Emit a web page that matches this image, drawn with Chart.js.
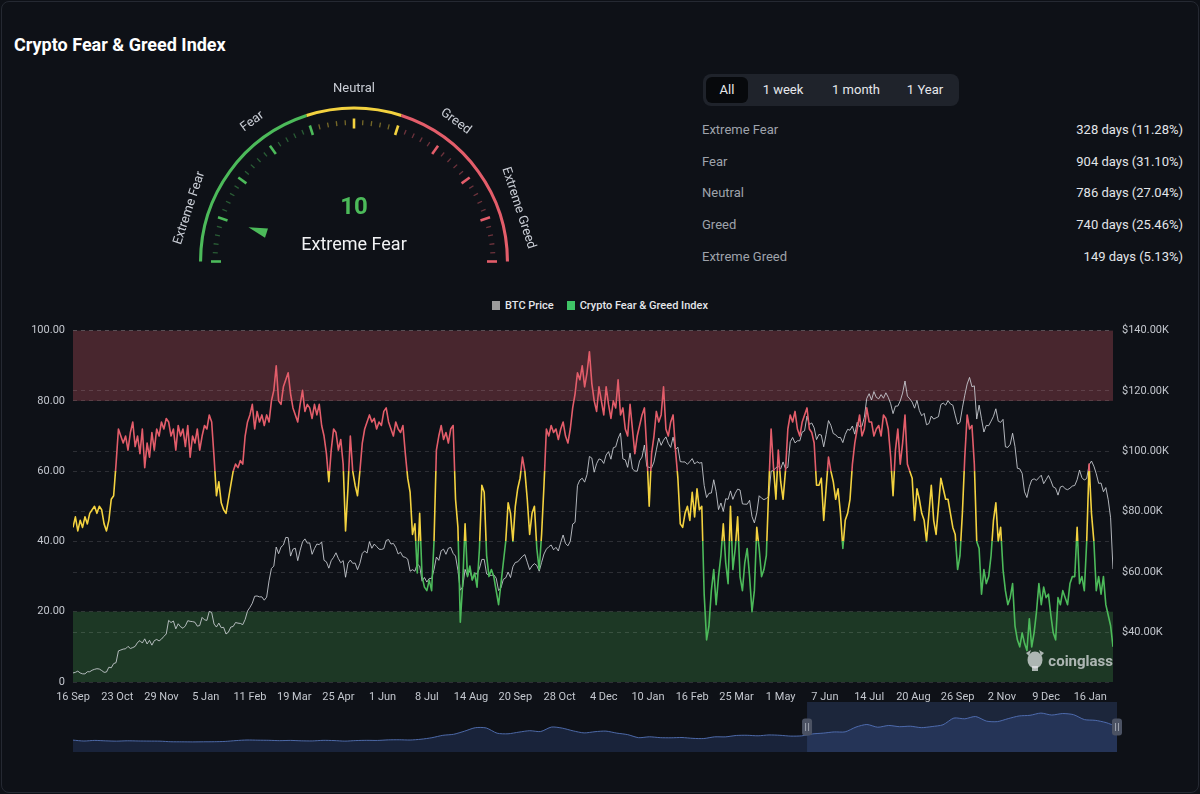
<!DOCTYPE html>
<html>
<head>
<meta charset="utf-8">
<script src="https://cdn.jsdelivr.net/npm/chart.js@4.4.1/dist/chart.umd.min.js"></script>
<style>
html,body{margin:0;padding:0;background:#0e1117;}
body{width:1200px;height:794px;position:relative;overflow:hidden;font-family:Roboto,"Noto Sans",sans-serif;color:#e6e8eb;}
#frame{position:absolute;left:1px;top:1px;width:1196px;height:790px;border:1px solid #252932;border-radius:8px;}
#title{position:absolute;left:14px;top:35px;line-height:20px;font-size:18px;font-weight:700;color:#ffffff;}
#btns{position:absolute;left:703px;top:74px;width:256px;height:32px;background:#1f232b;border-radius:8px;}
#btns .act{position:absolute;left:3px;top:3px;width:42px;height:26px;background:#07090c;border-radius:6px;}
#btns span{position:absolute;top:0;line-height:32px;font-size:13px;color:#e6e8eb;transform:translateX(-50%);white-space:nowrap;}
.row{position:absolute;left:702px;width:481px;height:20px;line-height:20px;font-size:13px;}
.row .l{position:absolute;left:0;color:#9ea3ab;}
.row .v{position:absolute;right:0;color:#e2e5e9;}
#legend{position:absolute;left:0;top:297px;width:1200px;height:16px;display:flex;justify-content:center;align-items:center;font-size:11px;font-weight:500;color:#e4e6ea;}
#legend .sw{display:inline-block;width:8px;height:9px;margin-right:5px;}
canvas{position:absolute;}
</style>
</head>
<body>
<div id="frame"></div>
<div id="title">Crypto Fear &amp; Greed Index</div>
<canvas id="gauge" width="400" height="220" style="left:154px;top:74px;width:400px;height:220px;"></canvas>
<div id="btns"><div class="act"></div><span style="left:24px">All</span><span style="left:80px">1 week</span><span style="left:153px">1 month</span><span style="left:222px">1 Year</span></div>
<div id="stats"></div>
<div id="legend"><span class="sw" style="background:#9c9c9c"></span><span>BTC Price</span><span class="sw" style="background:#3fc466;margin-left:13px"></span><span>Crypto Fear &amp; Greed Index</span></div>
<canvas id="main" width="1200" height="387" style="left:0;top:315px;width:1200px;height:387px;"></canvas>
<canvas id="nav" width="1200" height="56" style="left:0;top:700px;width:1200px;height:56px;"></canvas>
<script>
// ---------- DATA ----------
const statLabels = ['Extreme Fear','Fear','Neutral','Greed','Extreme Greed'];
const statValues = ['328 days (11.28%)','904 days (31.10%)','786 days (27.04%)','740 days (25.46%)','149 days (5.13%)'];

const gaugeValue = 10;
const gaugeValueLabel = 'Extreme Fear';
const gaugeZones = [40, 20, 40];            // 0-40 fear, 40-60 neutral, 60-100 greed
const gaugeZoneLabels = ['Extreme Fear','Fear','Neutral','Greed','Extreme Greed'];
const gaugeZoneLabelValues = [10, 30, 50, 70, 90];

const STEP = 2; // days between samples, first sample = 16 Sep 2023
const fg2023 = [44,47,43,46,44,47,45,48,
  49,50,48,50,49,45,43,46,52,53,62,72,70,68,70,
  66,71,74,67,70,65,72,61,68,64,71,66,72,70,74,
  72,75,74,70,72,66,73,70,72,67,73,64,70,68,72,66];
const fg2024 = [70,73,72,76,74,64,53,57,51,49,48,52,56,60,62,
  61,63,62,70,74,76,79,72,77,74,76,73,76,74,80,
  83,90,80,79,84,86,88,82,78,76,74,79,83,77,79,
  78,75,79,76,79,73,70,65,57,66,72,71,66,69,62,
  43,55,70,60,56,53,60,68,72,74,76,74,75,72,74,73,
  77,78,74,72,70,74,72,71,73,65,58,54,42,45,31,
  48,30,27,26,29,26,40,66,70,73,69,71,68,72,73,
  52,44,17,28,45,30,33,29,31,27,38,56,54,36,30,32,
  30,26,22,28,34,40,51,48,40,50,55,58,64,60,52,
  42,48,50,38,32,42,56,72,70,73,71,72,69,72,74,
  70,68,72,78,82,88,86,90,84,88,94,85,80,77,84,
  80,76,84,79,75,80,78,86,76,78,72,70,79,72,65,70];
const fg2025 = [73,76,78,66,50,65,70,77,74,76,84,72,70,74,76,
  66,58,45,44,48,50,46,54,47,55,49,50,25,12,
  16,26,32,22,30,36,45,34,28,50,32,38,47,30,26,34,
  38,30,20,26,44,38,30,32,36,55,72,61,52,66,57,
  52,60,72,76,74,77,72,70,74,76,78,72,71,68,56,
  56,58,46,55,64,60,57,52,55,48,38,46,48,52,62,
  68,72,76,70,72,78,74,74,70,72,73,70,76,75,72,64,
  53,66,72,62,68,76,62,60,58,46,55,52,48,46,40,
  48,56,46,42,50,58,55,52,52,48,44,42,32,36,48,
  64,76,72,73,62,40,38,25,32,28,30,36,46,51,40,44,
  32,26,22,24,28,16,12,10,14,11,9,18,10,14,20,
  28,22,27,24,25,19,14,12,24,22,26,24,22,28,30];
const fg2026 = [30,44,28,30,26,40,62,48,40,26,30,25,30,22,19,16,10];

// BTC price, thousands of USD, same sampling
const btc2023 = [26.6,26.8,27.2,26.6,26.3,26.3,27.0,27.0,
  27.5,27.8,28.0,27.9,27.4,26.8,26.9,28.5,28.3,29.7,30.0,33.9,34.2,34.5,34.6,
  35.4,34.7,35.0,35.4,36.7,37.3,36.5,37.9,36.2,37.4,35.8,37.3,37.7,37.2,37.8,
  38.7,39.5,44.0,43.3,43.8,41.2,42.9,41.9,41.4,42.2,43.9,43.7,43.6,43.4,42.1,42.3];
const btc2024 = [45.0,44.2,44.0,47.0,46.6,42.8,41.8,43.1,41.6,41.7,39.5,40.1,41.8,42.0,43.3,
  43.1,43.0,42.6,44.3,47.1,48.3,49.7,52.0,52.1,51.8,51.8,50.7,51.7,57.1,61.2,
  62.0,68.3,66.1,68.3,69.0,71.5,71.4,65.3,67.6,67.9,63.8,67.2,70.0,71.0,69.6,
  69.7,65.9,67.8,69.3,69.1,70.0,63.9,63.4,61.3,63.8,64.9,66.4,64.5,63.1,63.8,
  58.3,62.9,64.0,62.9,63.0,60.8,62.9,66.2,67.0,66.3,70.1,67.9,69.3,68.5,67.6,67.5,
  67.8,70.5,70.8,69.3,69.5,68.2,66.0,66.6,65.1,64.9,64.3,60.3,60.8,60.3,62.7,
  62.0,57.0,58.2,56.7,57.9,57.9,60.8,65.0,63.9,67.1,67.6,65.9,67.9,68.2,66.2,
  65.3,60.6,54.0,55.1,60.9,58.7,60.6,57.5,59.5,59.4,61.2,64.2,64.2,59.4,59.0,58.9,
  59.1,58.0,53.9,54.8,57.6,58.1,60.0,58.2,61.8,63.2,63.4,64.3,65.2,65.8,63.3,
  60.8,62.1,62.8,62.2,60.3,63.2,66.0,67.6,68.4,69.0,67.4,68.2,67.0,69.9,72.3,
  69.5,68.7,70.2,75.9,76.5,88.7,90.5,91.1,89.8,92.3,98.3,97.8,93.1,95.9,97.5,
  97.2,96.0,98.8,99.9,97.4,101.2,101.5,104.3,106.1,97.5,97.2,94.7,99.4,94.2,93.5,93.4];
const btc2025 = [96.9,98.1,102.1,95.0,94.7,94.5,96.5,100.5,104.4,102.0,103.7,104.8,102.6,101.3,104.7,
  100.6,101.4,96.6,96.5,96.5,95.7,96.6,97.6,95.8,96.6,96.1,96.3,88.7,84.7,
  86.1,86.2,90.6,86.7,80.7,82.9,80.1,84.3,84.1,86.9,84.1,86.1,87.5,87.2,82.6,82.5,
  82.5,83.8,78.4,76.3,79.6,85.3,84.5,84.0,84.4,85.1,93.4,93.7,94.6,95.0,94.2,
  96.5,94.3,94.7,103.2,104.6,102.8,103.5,103.5,106.4,106.8,111.7,108.9,109.4,107.8,103.9,
  105.6,105.4,101.5,105.6,110.2,108.6,105.9,105.5,104.6,104.6,102.9,105.6,107.3,107.0,108.4,
  105.7,109.6,108.2,108.3,111.3,117.5,119.1,117.0,119.8,117.9,117.4,118.8,117.6,119.4,117.9,115.8,
  112.5,115.0,115.0,116.7,119.3,123.3,118.3,117.4,116.3,114.3,116.9,113.5,111.8,112.6,108.8,
  109.2,111.7,110.7,111.1,111.5,115.5,116.0,115.3,116.8,115.7,115.3,112.0,109.0,109.6,114.4,
  118.6,122.3,124.5,121.4,121.7,110.7,115.3,110.8,106.4,108.6,108.5,110.0,111.6,114.1,110.0,109.6,
  110.6,101.5,101.3,102.3,106.0,101.6,94.4,94.2,92.7,86.6,84.7,88.3,90.5,90.9,90.4,
  91.3,92.1,89.3,90.6,92.0,90.3,88.2,87.8,85.5,88.2,88.5,87.6,87.3,87.8,88.5];
const btc2026 = [88.7,90.6,93.8,91.3,90.5,91.0,95.5,96.8,95.1,92.6,89.4,89.5,86.6,88.0,84.0,78.0,61.0];

const xTickDays = [0,37,74,111,148,185,222,259,296,333,370,407,444,481,518,555,592,629,666,703,740,777,814,851];
const xTickLabels = ['16 Sep','23 Oct','29 Nov','5 Jan','11 Feb','19 Mar','25 Apr','1 Jun','8 Jul','14 Aug','20 Sep','28 Oct','4 Dec','10 Jan','16 Feb','25 Mar','1 May','7 Jun','14 Jul','20 Aug','26 Sep','2 Nov','9 Dec','16 Jan'];
const fgTicks = [0,20,40,60,80,100];
const btcTicks = [40000,60000,80000,100000,120000,140000];

// navigator: monthly BTC close ($K), Feb 2018 .. Feb 2026
const nav2018 = [10.3,6.9,9.2,7.5,6.4,7.7,7.0,6.6,6.3,4.0,3.7];
const nav2019 = [3.4,3.8,4.1,5.3,8.6,10.8,10.1,9.6,8.3,9.2,7.6,7.2];
const nav2020 = [9.4,8.6,6.4,8.6,9.5,9.1,11.3,11.7,10.8,13.8,19.7,29.0];
const nav2021 = [33.1,45.2,58.8,57.7,37.3,35.0,41.5,47.1,43.8,61.3,57.0,46.3];
const nav2022 = [38.5,43.2,45.5,37.7,31.8,19.9,23.3,20.0,19.4,20.5,17.2,16.5];
const nav2023 = [23.1,23.1,28.5,29.2,27.2,30.5,29.2,26.0,27.0,34.5,37.7,42.3];
const nav2024 = [42.6,61.2,71.3,60.6,67.5,62.7,64.6,59.0,63.3,70.2,96.4,93.4];
const nav2025 = [102.4,84.4,82.5,94.2,104.6,107.1,115.8,108.2,114.0,109.6,90.4,87.5];
const nav2026 = [78.6,62.7];
const navSelStart = 67.5; // 16 Sep 2023 in months since Feb 2018

// ---------- COLORS ----------
const RED = '#e35d6a', YEL = '#f3d23f', GRN = '#4cba5a';
const FONT = 'Roboto, "Noto Sans", sans-serif';

// ---------- STATS PANEL ----------
const statsEl = document.getElementById('stats');
const rowCenters = [130,162,193,225,257];
statLabels.forEach((l,i)=>{
  const d = document.createElement('div');
  d.className='row'; d.style.top=(rowCenters[i]-10)+'px';
  d.innerHTML = '<span class="l">'+l+'</span><span class="v">'+statValues[i]+'</span>';
  statsEl.appendChild(d);
});

// ---------- GAUGE ----------
function zoneColor(v){ return v<=40?GRN:(v<=60?YEL:RED); }
const gaugeDeco = {
  id:'gaugeDeco',
  afterDatasetsDraw(chart){
    const arc = chart.getDatasetMeta(0).data[0];
    const cx = arc.x, cy = arc.y;
    const ctx = chart.ctx;
    ctx.save();
    ctx.lineCap='butt';
    for(let v=0; v<=100; v+=2){
      const major = v%10===0;
      const a = Math.PI*(1 - v/100);
      const r1 = major?133:136.5, r2 = major?143:141.5;
      ctx.strokeStyle = zoneColor(v);
      ctx.globalAlpha = major?1:0.45;
      ctx.lineWidth = major?2.6:1.3;
      ctx.beginPath();
      ctx.moveTo(cx + r1*Math.cos(a), cy - r1*Math.sin(a));
      ctx.lineTo(cx + r2*Math.cos(a), cy - r2*Math.sin(a));
      ctx.stroke();
    }
    ctx.globalAlpha = 1;
    ctx.fillStyle='#c9cdd5';
    ctx.font='13px '+FONT;
    ctx.textAlign='center'; ctx.textBaseline='middle';
    gaugeZoneLabels.forEach((t,i)=>{
      const a = Math.PI*(1 - gaugeZoneLabelValues[i]/100);
      const r = 173;
      ctx.save();
      ctx.translate(cx + r*Math.cos(a), cy - r*Math.sin(a));
      ctx.rotate(Math.PI/2 - a);
      ctx.fillText(t,0,0);
      ctx.restore();
    });
    const pa = Math.PI*(1 - gaugeValue/100);
    const ux = Math.cos(pa), uy = -Math.sin(pa);
    const px = -uy, py = ux;
    const tip = 111, base = 92, hw = 4.8;
    ctx.fillStyle = zoneColor(gaugeValue);
    ctx.beginPath();
    ctx.moveTo(cx+ux*tip, cy+uy*tip);
    ctx.lineTo(cx+ux*base+px*hw, cy+uy*base+py*hw);
    ctx.lineTo(cx+ux*base-px*hw, cy+uy*base-py*hw);
    ctx.closePath(); ctx.fill();
    ctx.fillStyle = zoneColor(gaugeValue);
    ctx.font = 'bold 24px '+FONT;
    ctx.fillText(String(gaugeValue), cx, cy-54);
    ctx.fillStyle = '#f2f3f5';
    ctx.font = '18px '+FONT;
    ctx.fillText(gaugeValueLabel, cx, cy-16);
    ctx.restore();
  }
};
new Chart(document.getElementById('gauge'), {
  type:'doughnut',
  data:{labels:['Fear','Neutral','Greed'], datasets:[{data:gaugeZones, backgroundColor:[GRN,YEL,RED], borderWidth:0}]},
  options:{
    responsive:false, animation:false,
    rotation:-90, circumference:180, radius:155, cutout:'98%',
    layout:{padding:0},
    plugins:{legend:{display:false}, tooltip:{enabled:false}}
  },
  plugins:[gaugeDeco]
});

// ---------- MAIN CHART ----------
const fgValues = fg2023.concat(fg2024, fg2025, fg2026);
const btcValues = btc2023.concat(btc2024, btc2025, btc2026);
const fgPoints = fgValues.map((v,i)=>({x:i*STEP, y:v}));
const btcPoints = btcValues.map((v,i)=>({x:i*STEP, y:v*1000}));
const lastDay = (fgValues.length-1)*STEP;

function fgGradient(context){
  const chart = context.chart;
  const ys = chart.scales && chart.scales.y;
  if(!chart.chartArea || !ys) return GRN;
  const top = ys.getPixelForValue(100), bot = ys.getPixelForValue(0);
  const g = chart.ctx.createLinearGradient(0, top, 0, bot);
  const f60 = (ys.getPixelForValue(60)-top)/(bot-top);
  const f40 = (ys.getPixelForValue(40)-top)/(bot-top);
  g.addColorStop(0, RED); g.addColorStop(f60, RED);
  g.addColorStop(f60, YEL); g.addColorStop(f40, YEL);
  g.addColorStop(f40, GRN); g.addColorStop(1, GRN);
  return g;
}
const bandsPlugin = {
  id:'bands',
  beforeDraw(chart){
    const {ctx, chartArea:a, scales:{y}} = chart;
    ctx.save();
    ctx.fillStyle='rgba(224,92,106,0.28)';
    ctx.fillRect(a.left, y.getPixelForValue(100), a.right-a.left, y.getPixelForValue(80)-y.getPixelForValue(100));
    ctx.fillStyle='rgba(76,175,80,0.25)';
    ctx.fillRect(a.left, y.getPixelForValue(20), a.right-a.left, y.getPixelForValue(0)-y.getPixelForValue(20));
    ctx.restore();
  }
};
const watermark = {
  id:'watermark',
  afterDraw(chart){
    const {ctx, chartArea:a} = chart;
    ctx.save();
    const x = a.right, yb = a.bottom - 16;
    ctx.font = 'bold 15px '+FONT;
    ctx.textAlign='right'; ctx.textBaseline='alphabetic';
    ctx.fillStyle='rgba(230,232,236,0.72)';
    ctx.fillText('coinglass', x, yb);
    const lx = x - 78, ly = yb - 6;
    ctx.beginPath();
    ctx.ellipse(lx, ly, 7.5, 8.5, 0, 0, Math.PI*2);
    ctx.fill();
    ctx.beginPath();
    ctx.moveTo(lx-9, ly-7); ctx.lineTo(lx-4, ly-10); ctx.lineTo(lx-6, ly-4); ctx.closePath(); ctx.fill();
    ctx.beginPath();
    ctx.moveTo(lx+9, ly-7); ctx.lineTo(lx+4, ly-10); ctx.lineTo(lx+6, ly-4); ctx.closePath(); ctx.fill();
    ctx.fillRect(lx-3, ly+6, 6, 5);
    ctx.restore();
  }
};
const axisFont = {size:11, family:FONT};
const gridCol = 'rgba(255,255,255,0.13)';
new Chart(document.getElementById('main'), {
  type:'line',
  data:{datasets:[
    {label:'Crypto Fear & Greed Index', data:fgPoints, yAxisID:'y', borderColor:fgGradient, borderWidth:1.6, pointRadius:0, tension:0, borderJoinStyle:'round'},
    {label:'BTC Price', data:btcPoints, yAxisID:'y1', borderColor:'rgba(206,209,215,0.85)', borderWidth:1, pointRadius:0, tension:0}
  ]},
  options:{
    responsive:false, animation:false,
    layout:{padding:{top:8,left:0,right:0,bottom:0}},
    plugins:{legend:{display:false}, tooltip:{enabled:false}},
    scales:{
      x:{type:'linear', min:0, max:lastDay,
        afterBuildTicks:s=>{ s.ticks = xTickDays.map(v=>({value:v})); },
        ticks:{autoSkip:false, maxRotation:0, minRotation:0, color:'#c3c7ce', font:axisFont, padding:1,
          callback:(v,i)=>xTickLabels[i]},
        grid:{display:false}, border:{display:false},
        afterFit:s=>{ s.height = 20; }},
      y:{position:'left', min:0, max:100,
        afterBuildTicks:s=>{ s.ticks = fgTicks.map(v=>({value:v})); },
        ticks:{color:'#c3c7ce', font:axisFont, padding:8, callback:v=> v===0?'0':Number(v).toFixed(2)},
        grid:{color:gridCol, drawTicks:false, lineWidth:1},
        border:{display:false, dash:[4,4]},
        afterFit:s=>{ s.width = 73; }},
      y1:{position:'right', min:23600, max:140000,
        afterBuildTicks:s=>{ s.ticks = btcTicks.map(v=>({value:v})); },
        ticks:{color:'#c3c7ce', font:axisFont, padding:9, callback:v=>'$'+(v/1000).toFixed(2)+'K'},
        grid:{color:gridCol, drawTicks:false, lineWidth:1},
        border:{display:false, dash:[4,4]},
        afterFit:s=>{ s.width = 87; }}
    }
  },
  plugins:[bandsPlugin, watermark]
});

// ---------- NAVIGATOR ----------
const navValues = nav2018.concat(nav2019, nav2020, nav2021, nav2022, nav2023, nav2024, nav2025, nav2026);
const navPoints = navValues.map((v,i)=>({x:i, y:v}));
const navSel = {
  id:'navSel',
  afterDatasetsDraw(chart){
    const {ctx, chartArea:a, scales:{x}} = chart;
    const x0 = x.getPixelForValue(navSelStart), x1 = a.right;
    ctx.save();
    ctx.fillStyle='rgba(80,112,190,0.22)';
    ctx.fillRect(x0, a.top, x1-x0, a.bottom-a.top);
    const cy = (a.top+a.bottom)/2;
    [x0, x1].forEach(hx=>{
      ctx.fillStyle='#4b5263';
      const w=10, h=17, r=3;
      ctx.beginPath();
      ctx.roundRect(hx-w/2, cy-h/2, w, h, r);
      ctx.fill();
      ctx.strokeStyle='#9aa0ac'; ctx.lineWidth=1;
      ctx.beginPath();
      ctx.moveTo(hx-1.5, cy-4); ctx.lineTo(hx-1.5, cy+4);
      ctx.moveTo(hx+1.5, cy-4); ctx.lineTo(hx+1.5, cy+4);
      ctx.stroke();
    });
    ctx.restore();
  }
};
new Chart(document.getElementById('nav'), {
  type:'line',
  data:{datasets:[{data:navPoints, fill:'start', backgroundColor:'rgba(50,76,135,0.32)', borderColor:'rgba(80,110,175,0.95)', borderWidth:1, pointRadius:0, tension:0.25}]},
  options:{
    responsive:false, animation:false,
    layout:{padding:{left:73, right:83, top:2, bottom:4}},
    plugins:{legend:{display:false}, tooltip:{enabled:false}},
    scales:{
      x:{type:'linear', display:false, min:0, max:navValues.length-1},
      y:{display:false, min:-36, max:159}
    }
  },
  plugins:[navSel]
});
</script>
</body>
</html>
